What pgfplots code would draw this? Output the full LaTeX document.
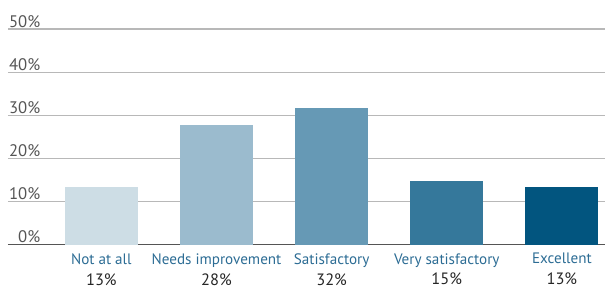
\documentclass[border=0pt]{standalone}
\usepackage{pgfplots}
\pgfplotsset{compat=1.18}
\usepackage{fontspec}
\setmainfont{PT Sans}
\definecolor{c1}{HTML}{CDDDE5}
\definecolor{c2}{HTML}{9BBBCE}
\definecolor{c3}{HTML}{6699B5}
\definecolor{c4}{HTML}{35789B}
\definecolor{c5}{HTML}{02557F}
\definecolor{lab}{HTML}{2C6C94}
\definecolor{gridc}{HTML}{B8B8B8}
\definecolor{ytc}{HTML}{555555}
\newcommand{\vl}[1]{{\fontsize{16.5}{21}\selectfont #1}}
\begin{document}
\begin{tikzpicture}
\begin{axis}[
  scale only axis, width=598bp, height=216bp,
  xmin=-0.811, xmax=4.377, ymin=0, ymax=50,
  clip=false,
  ybar, bar width=0.633, bar shift=0pt,
  separate axis lines,
  axis x line*=bottom,
  x axis line style={draw=ytc, line width=1.5bp, -},
  y axis line style={draw=none},
  major tick length=0pt,
  ytick={0,10,20,30,40,50},
  ymajorgrids, major grid style={draw=gridc, line width=1.2bp},
  /pgf/number format/assume math mode=true,
  yticklabel={\pgfmathprintnumber{\tick}\%},
  yticklabel style={anchor=south east, xshift=34bp, inner sep=1.5bp, text=ytc, font=\fontsize{16.8}{19}\selectfont},
  xtick={0,1,2,3,4},
  xticklabels={{\textcolor{lab}{Not at all}\\\vl{13\%}},{\textcolor{lab}{Needs improvement}\\\vl{28\%}},{\textcolor{lab}{Satisfactory}\\\vl{32\%}},{\textcolor{lab}{Very satisfactory}\\\vl{15\%}},{\textcolor{lab}{Excellent}\\\vl{13\%}}},
  xticklabel style={align=center, anchor=north, inner sep=0pt, yshift=-8.5bp, text=black!85, font=\fontsize{15.2}{21}\selectfont},
]
\addplot[fill=c1, draw=none] coordinates {(0,13.4)};
\addplot[fill=c2, draw=none] coordinates {(1,27.8)};
\addplot[fill=c3, draw=none] coordinates {(2,31.7)};
\addplot[fill=c4, draw=none] coordinates {(3,14.8)};
\addplot[fill=c5, draw=none] coordinates {(4,13.4)};
\path (rel axis cs:0,0) ++(-8bp,-45bp) coordinate (bbA);
\path (rel axis cs:1,1) ++(0bp,29bp) coordinate (bbB);
\end{axis}
\path (bbA) rectangle (bbB);
\end{tikzpicture}
\end{document}
